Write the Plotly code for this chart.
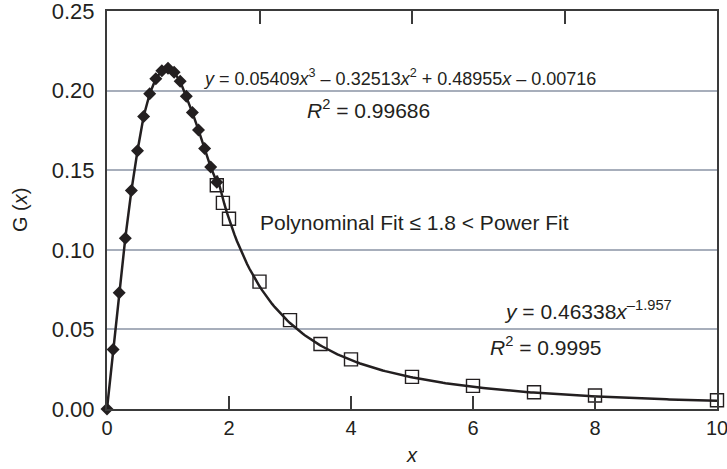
import numpy as np
import plotly.graph_objects as go

# Data
poly_x = [0.0, 0.1, 0.2, 0.3, 0.4, 0.5, 0.6, 0.7, 0.8, 0.9, 1.0, 1.1, 1.2, 1.3, 1.4, 1.5, 1.6, 1.7, 1.8]
poly_y = [0.0, 0.0373, 0.0730, 0.1073, 0.1372, 0.1622, 0.1837, 0.1980, 0.2075, 0.2125, 0.2140, 0.2115, 0.2058, 0.1965, 0.1862, 0.1752, 0.1636, 0.1520, 0.1425]

pow_x = [1.8, 1.9, 2.0, 2.5, 3.0, 3.5, 4.0, 5.0, 6.0, 7.0, 8.0, 10.0]
pow_y = [0.1405, 0.1295, 0.1195, 0.0800, 0.0558, 0.0408, 0.0312, 0.0202, 0.0145, 0.0105, 0.0085, 0.0055]

# Power trendline coefficients as printed on the chart
pow_a = 0.46338
pow_b = -1.957
trend_x0, trend_x1 = 1.8, 10.0

x_ticks = [0, 2, 4, 6, 8, 10]
top_ticks = [2.5, 5, 7.5]
y_ticks = [0.00, 0.05, 0.10, 0.15, 0.20, 0.25]
y_ticklabels = ["0.00", "0.05", "0.10", "0.15", "0.20", "0.25"]

INK = "#231f20"
GRID = "#a7aebb"
AXIS = "#3a3a3a"
FONT = "Liberation Sans, Arial, sans-serif"

tx = np.linspace(trend_x0, trend_x1, 200)
ty = pow_a * tx ** pow_b

fig = go.Figure()
fig.add_trace(go.Scatter(x=tx, y=ty, mode="lines", line=dict(color=INK, width=2.5),
                         hoverinfo="skip", showlegend=False, cliponaxis=False))
fig.add_trace(go.Scatter(x=pow_x, y=pow_y, mode="markers",
                         marker=dict(symbol="square-open", size=13, color=INK, line=dict(width=1.4, color=INK)),
                         showlegend=False, cliponaxis=False))
fig.add_trace(go.Scatter(x=poly_x, y=poly_y, mode="lines+markers",
                         line=dict(color=INK, width=2.5),
                         marker=dict(symbol="diamond", size=10, color=INK),
                         showlegend=False, cliponaxis=False))
# invisible trace so the top axis is drawn
fig.add_trace(go.Scatter(x=[0, 10], y=[0, 0], xaxis="x2", mode="lines",
                         line=dict(width=0), opacity=0, hoverinfo="skip", showlegend=False))

fig.update_layout(
    width=727, height=469,
    margin=dict(l=107, r=10, t=11, b=60),
    paper_bgcolor="white", plot_bgcolor="white",
    font=dict(family=FONT, size=20, color=INK),
    xaxis=dict(range=[0, 10], tickvals=x_ticks, ticks="inside", ticklen=13, tickwidth=2,
               tickcolor=AXIS, showline=True, linecolor=AXIS, linewidth=2, showgrid=False,
               zeroline=False, automargin=False, ticklabeloverflow="allow",
               tickfont=dict(size=20, color=INK)),
    xaxis2=dict(range=[0, 10], overlaying="x", side="top", anchor="y", tickvals=top_ticks,
                ticks="inside", ticklen=13, tickwidth=2, tickcolor=AXIS, showticklabels=False,
                showline=True, linecolor=AXIS, linewidth=2, showgrid=False, zeroline=False,
                automargin=False),
    yaxis=dict(range=[0, 0.25], tickvals=y_ticks, ticktext=y_ticklabels, ticks="",
               showline=True, mirror=True, linecolor=AXIS, linewidth=2,
               showgrid=True, gridcolor=GRID, gridwidth=1.5, zeroline=False, automargin=False,
               ticklabeloverflow="allow", ticklabelstandoff=6, tickfont=dict(size=22, color=INK)),
)

ann_font = dict(family=FONT, size=21, color=INK)
fig.add_annotation(text="<i>y</i> = 0.05409<i>x</i><sup>3</sup> – 0.32513<i>x</i><sup>2</sup> + 0.48955<i>x</i> – 0.00716",
                   x=1.54, y=0.2085, xref="x", yref="y", xanchor="left", yanchor="middle",
                   showarrow=False, font=dict(family=FONT, size=18, color=INK))
fig.add_annotation(text="<i>R</i><sup>2</sup> = 0.99686", x=3.246, y=0.1882, xref="x", yref="y",
                   xanchor="left", yanchor="middle", showarrow=False, font=ann_font)
fig.add_annotation(text="Polynominal Fit ≤ 1.8 < Power Fit", x=2.475, y=0.1174, xref="x", yref="y",
                   xanchor="left", yanchor="middle", showarrow=False, font=ann_font)
fig.add_annotation(text="<i>y</i> = 0.46338<i>x</i><sup>–1.957</sup>", x=6.47, y=0.0624, xref="x", yref="y",
                   xanchor="left", yanchor="middle", showarrow=False, font=ann_font)
fig.add_annotation(text="<i>R</i><sup>2</sup> = 0.9995", x=6.246, y=0.0394, xref="x", yref="y",
                   xanchor="left", yanchor="middle", showarrow=False, font=ann_font)
# axis titles
fig.add_annotation(text="G (<i>x</i>)", xref="paper", yref="paper", x=-0.1426, y=0.5,
                   xanchor="center", yanchor="middle", textangle=-90, showarrow=False,
                   font=dict(family=FONT, size=20, color=INK))
fig.add_annotation(text="<i>x</i>", xref="paper", yref="paper", x=0.5, y=-0.1156,
                   xanchor="center", yanchor="middle", showarrow=False,
                   font=dict(family=FONT, size=20, color=INK))

fig.write_html("out.html", config={"displayModeBar": False},
               post_script="document.body.style.margin='0';document.body.style.overflow='hidden';")
